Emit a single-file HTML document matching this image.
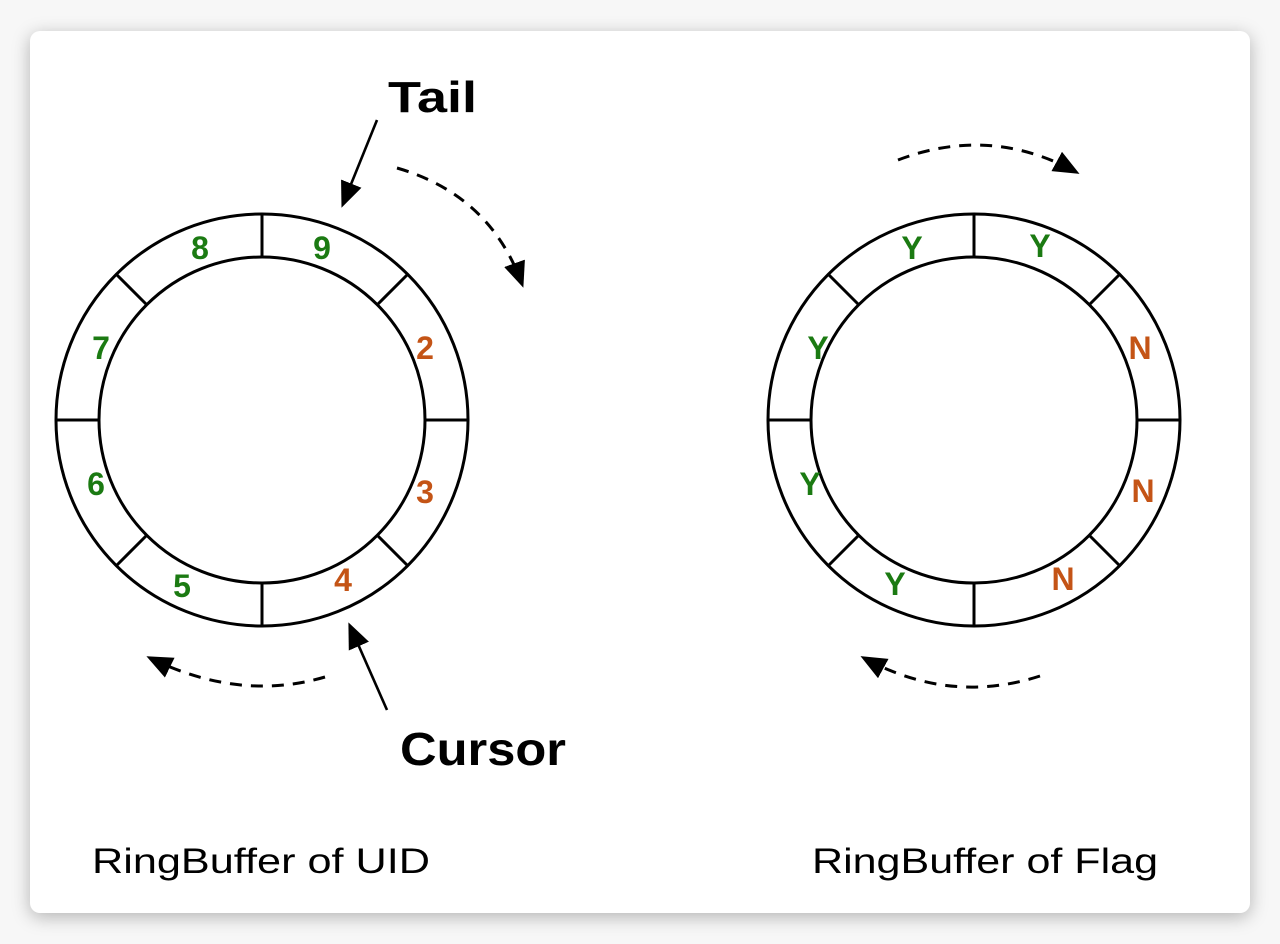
<!DOCTYPE html>
<html><head><meta charset="utf-8"><style>
html,body{margin:0;padding:0;background:#f7f7f7;width:1280px;height:944px;overflow:hidden}
.card{position:absolute;left:30px;top:31px;width:1220px;height:882px;background:#fff;border-radius:10px;box-shadow:0 4px 18px rgba(0,0,0,0.28)}
svg{position:absolute;left:0;top:0}
text{font-family:"Liberation Sans","DejaVu Sans",sans-serif}
</style></head><body>
<div class="card"></div>
<svg width="1280" height="944" viewBox="0 0 1280 944">
<defs>
<marker id="ah" markerWidth="26" markerHeight="22" refX="22" refY="11" orient="auto" markerUnits="userSpaceOnUse" viewBox="0 0 26 22"><path d="M0,0 L26,11 L0,22 z" fill="#000"/></marker>
</defs>
<g fill="none" stroke="#000" stroke-width="3">
<circle cx="262" cy="420" r="206"/><circle cx="262" cy="420" r="163"/>
<line x1="262" y1="214" x2="262" y2="257"/><line x1="262" y1="583" x2="262" y2="626"/>
<line x1="56" y1="420" x2="99" y2="420"/><line x1="425" y1="420" x2="468" y2="420"/>
<line x1="116" y1="274" x2="147" y2="305"/><line x1="408" y1="274" x2="377" y2="305"/>
<line x1="116" y1="566" x2="147" y2="535"/><line x1="408" y1="566" x2="377" y2="535"/>
<circle cx="974" cy="420" r="206"/><circle cx="974" cy="420" r="163"/>
<line x1="974" y1="214" x2="974" y2="257"/><line x1="974" y1="583" x2="974" y2="626"/>
<line x1="768" y1="420" x2="811" y2="420"/><line x1="1137" y1="420" x2="1180" y2="420"/>
<line x1="828" y1="274" x2="859" y2="305"/><line x1="1120" y1="274" x2="1089" y2="305"/>
<line x1="828" y1="566" x2="859" y2="535"/><line x1="1120" y1="566" x2="1089" y2="535"/>
</g>
<g stroke="#000" stroke-width="2.6" fill="none">
<path d="M377,120 L343,204" marker-end="url(#ah)"/>
<path d="M387,710 L350,626" marker-end="url(#ah)"/>
</g>
<g stroke="#000" stroke-width="3" fill="none" stroke-dasharray="12,9">
<path d="M397,168 Q490,195 522,284" marker-end="url(#ah)"/>
<path d="M325,677 Q240,702 150,658" marker-end="url(#ah)"/>
<path d="M898,160 Q990,125 1076,172" marker-end="url(#ah)"/>
<path d="M1040,676 Q950,705 864,658" marker-end="url(#ah)"/>
</g>
<g font-weight="bold" font-size="32" text-anchor="middle">
<text x="200" y="259" fill="#1b7a12">8</text>
<text x="322" y="259" fill="#1b7a12">9</text>
<text x="425" y="359" fill="#c45416">2</text>
<text x="425" y="503" fill="#c45416">3</text>
<text x="343" y="591" fill="#c45416">4</text>
<text x="182" y="597" fill="#1b7a12">5</text>
<text x="96" y="495" fill="#1b7a12">6</text>
<text x="101" y="359" fill="#1b7a12">7</text>
<text x="912" y="259" fill="#1b7a12">Y</text>
<text x="1040" y="257" fill="#1b7a12">Y</text>
<text x="1140" y="359" fill="#c45416">N</text>
<text x="1143" y="502" fill="#c45416">N</text>
<text x="1063" y="590" fill="#c45416">N</text>
<text x="895" y="595" fill="#1b7a12">Y</text>
<text x="810" y="495" fill="#1b7a12">Y</text>
<text x="818" y="359" fill="#1b7a12">Y</text>
</g>
<text x="388" y="112" font-size="44" font-weight="bold" fill="#000" textLength="89" lengthAdjust="spacingAndGlyphs">Tail</text>
<text x="400" y="765" font-size="46" font-weight="bold" fill="#000" textLength="166" lengthAdjust="spacingAndGlyphs">Cursor</text>
<text x="92" y="873" font-size="35" fill="#000" textLength="338" lengthAdjust="spacingAndGlyphs">RingBuffer of UID</text>
<text x="812" y="873" font-size="35" fill="#000" textLength="346" lengthAdjust="spacingAndGlyphs">RingBuffer of Flag</text>
</svg>
</body></html>
